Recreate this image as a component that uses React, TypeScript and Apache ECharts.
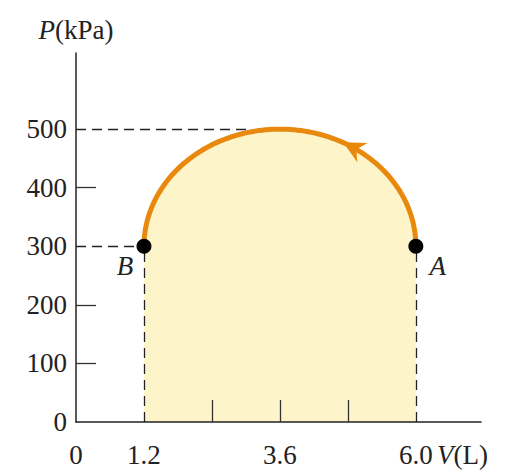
import React, { useEffect, useRef } from "react";
import * as echarts from "echarts";

// Key points of the cyclic process (V in L, P in kPa): B -> peak -> A
const cycleV = [1.2, 3.6, 6.0];
const cycleP = [300, 500, 300];

// Labelled states
const stateNames = ["A", "B"];
const stateV = [6.0, 1.2];
const stateP = [300, 300];

// Axis ticks / labels
const xLabelValues = [0, 1.2, 3.6, 6.0];
const xTickValues = [2.4, 3.6, 4.8];
const yLabelValues = [0, 100, 200, 300, 400, 500];
const yTickValues = [100, 200, 400];

// Dashed guide lines [[v1,p1],[v2,p2]]
const guides = [
  [[0, 300], [1.2, 300]],
  [[0, 500], [3.05, 500]],
  [[1.2, 0], [1.2, 300]],
  [[6.0, 0], [6.0, 300]],
];

const SERIF = "'Liberation Serif', 'DejaVu Serif', serif";
const ORANGE = "#E8890E";
const FILL = "#FEF4C9";
const FS = 27;

function ellipseGeom(api: any) {
  const b = api.coord([api.value(0), api.value(1)]);
  const top = api.coord([api.value(2), api.value(3)]);
  const a = api.coord([api.value(4), api.value(5)]);
  const cx = top[0];
  const cy = b[1];
  const rx = a[0] - cx;
  const ry = cy - top[1];
  const arc: number[][] = [];
  const N = 120;
  for (let i = 0; i <= N; i++) {
    const t = Math.PI - (Math.PI * i) / N;
    arc.push([cx + rx * Math.cos(t), cy - ry * Math.sin(t)]);
  }
  return { cx, cy, rx, ry, arc };
}

export default function App() {
  const ref = useRef<HTMLDivElement>(null);
  useEffect(() => {
    if (!ref.current) return;
    const chart = echarts.init(ref.current, null, { renderer: "svg" });

    const renderFill = (params: any, api: any) => {
      const { arc } = ellipseGeom(api);
      const b0 = api.coord([api.value(0), 0]);
      const a0 = api.coord([api.value(4), 0]);
      return {
        type: "polygon",
        shape: { points: [...arc, a0, b0] },
        style: { fill: FILL, stroke: "none" },
      };
    };

    const renderStroke = (params: any, api: any) => {
      const { cx, cy, rx, ry, arc } = ellipseGeom(api);
      const t = (58 * Math.PI) / 180;
      const px = cx + rx * Math.cos(t);
      const py = cy - ry * Math.sin(t);
      let dx = -rx * Math.sin(t);
      let dy = -ry * Math.cos(t);
      const len = Math.hypot(dx, dy);
      dx /= len;
      dy /= len;
      const nx = -dy;
      const ny = dx;
      const tip = [px + dx * 10, py + dy * 10];
      const back = [px - dx * 12, py - dy * 12];
      const notch = [px - dx * 5, py - dy * 5];
      const w = 11;
      const arrow = [
        tip,
        [back[0] + nx * w, back[1] + ny * w],
        notch,
        [back[0] - nx * w, back[1] - ny * w],
      ];
      return {
        type: "group",
        children: [
          { type: "polyline", shape: { points: arc }, style: { fill: "none", stroke: ORANGE, lineWidth: 5 } },
          { type: "polygon", shape: { points: arrow }, style: { fill: ORANGE, stroke: "none" } },
        ],
      };
    };

    const cycleItem = [cycleV[0], cycleP[0], cycleV[1], cycleP[1], cycleV[2], cycleP[2]];

    chart.setOption({
      animation: false,
      grid: { left: 76, right: 44, top: 53, bottom: 54 },
      xAxis: {
        type: "value",
        min: 0,
        max: 7.15,
        z: 5,
        splitLine: { show: false },
        axisLine: { lineStyle: { color: "#222", width: 1.5 } },
        axisTick: {
          show: true,
          customValues: xTickValues,
          inside: true,
          length: 22,
          lineStyle: { color: "#333", width: 1.3 },
        },
        axisLabel: {
          customValues: xLabelValues,
          formatter: (v: number) => (v === 0 ? "0" : v.toFixed(1)),
          fontSize: FS,
          fontFamily: SERIF,
          color: "#222",
          margin: 19,
        },
      },
      yAxis: {
        type: "value",
        min: 0,
        max: 630,
        z: 5,
        splitLine: { show: false },
        axisLine: { show: true, lineStyle: { color: "#222", width: 1.5 } },
        axisTick: {
          show: true,
          customValues: yTickValues,
          inside: true,
          length: 20,
          lineStyle: { color: "#333", width: 1.3 },
        },
        axisLabel: {
          customValues: yLabelValues,
          fontSize: FS,
          fontFamily: SERIF,
          color: "#222",
          margin: 9,
        },
        name: "{i|P}(kPa)",
        nameLocation: "end",
        nameGap: 10,
        nameTextStyle: {
          fontSize: FS,
          fontFamily: SERIF,
          color: "#222",
          rich: { i: { fontStyle: "italic", fontSize: FS, fontFamily: SERIF, color: "#222" } },
        },
      },
      graphic: [
        {
          type: "text",
          x: 437,
          y: 455,
          style: {
            text: "{i|V}(L)",
            fontSize: FS,
            fontFamily: SERIF,
            fill: "#222",
            verticalAlign: "middle",
            rich: { i: { fontStyle: "italic", fontSize: FS, fontFamily: SERIF, fill: "#222" } },
          },
        },
      ],
      series: [
        {
          type: "custom",
          renderItem: renderFill,
          data: [cycleItem],
          z: 1,
          silent: true,
        },
        {
          type: "lines",
          coordinateSystem: "cartesian2d",
          z: 2,
          lineStyle: { color: "#222", width: 1.3, type: [10, 6], opacity: 1 },
          data: guides.map((c) => ({ coords: c })),
          silent: true,
        },
        {
          type: "custom",
          renderItem: renderStroke,
          data: [cycleItem],
          z: 3,
          silent: true,
        },
        {
          type: "scatter",
          z: 4,
          symbolSize: 15,
          itemStyle: { color: "#000", opacity: 1 },
          data: stateNames.map((n, i) => ({
            name: n,
            value: [stateV[i], stateP[i]],
            label: {
              show: true,
              formatter: n,
              position: "inside",
              offset: n === "A" ? [22, 20] : [-19, 20],
              fontSize: FS,
              fontStyle: "italic",
              fontFamily: SERIF,
              color: "#222",
            },
          })),
        },
      ],
    });
    return () => chart.dispose();
  }, []);
  return (
    <div
      ref={ref}
      style={{ position: "fixed", left: 0, top: 0, width: 525, height: 476, background: "#fff" }}
    />
  );
}
